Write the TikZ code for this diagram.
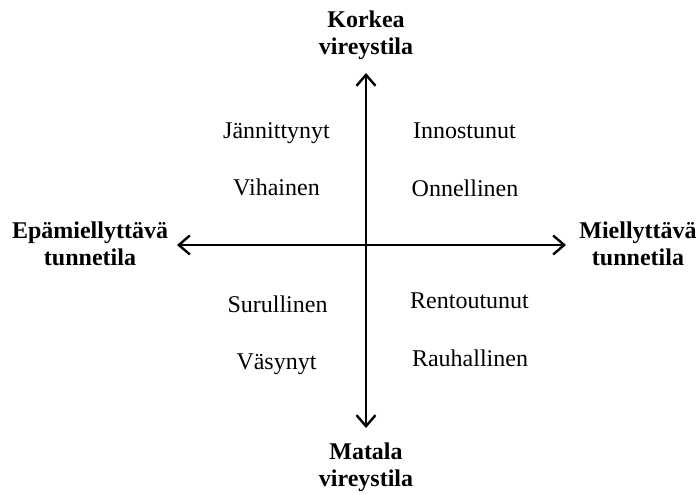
\documentclass[tikz,border=0pt]{standalone}
\usepackage{fontspec}
\setmainfont{Liberation Serif}
\usetikzlibrary{arrows.meta}

\begin{document}
\begin{tikzpicture}[
    x=1pt, y=-1pt,
    every node/.style={font=\fontsize{24}{27}\selectfont, inner sep=0pt, anchor=base},
    axis/.style={-{Straight Barb[length=11pt, width=19pt]}, line width=2.4pt},
    pole/.style={font=\fontsize{24}{27}\selectfont\bfseries, align=center},
    mood/.style={},
]

% Canvas
\useasboundingbox (0,0) rectangle (699,495);

% Parameters
\def\xc{366}
\def\yc{245}

% === Axes ===
\coordinate (west) at (177,\yc);
\coordinate (east) at (566,\yc);
\coordinate (north) at (\xc,73);
\coordinate (south) at (\xc,428);
\coordinate (origin) at (\xc,\yc);
\draw[axis] (origin) -- (west);
\draw[axis] (origin) -- (east);
\draw[axis] (origin) -- (north);
\draw[axis] (origin) -- (south);

% === Axis labels (base = last line) ===
\node[pole] (high) at (\xc,55) {Korkea\\vireystila};
\node[pole] (low) at (\xc,486) {Matala\\vireystila};
\node[pole] (unpleasant) at (90,265) {Epämiellyttävä\\tunnetila};
\node[pole] (pleasant) at (638,265) {Miellyttävä\\tunnetila};

% === Quadrant moods ===
\node[mood] (tense) at (276.5,138) {Jännittynyt};
\node[mood] (angry) at (276.5,195) {Vihainen};
\node[mood] (excited) at (464.5,138) {Innostunut};
\node[mood] (happy) at (465,196) {Onnellinen};
\node[mood] (sad) at (277.5,312) {Surullinen};
\node[mood] (tired) at (276.5,369) {Väsynyt};
\node[mood] (relaxed) at (469.5,308) {Rentoutunut};
\node[mood] (calm) at (470,366) {Rauhallinen};

\end{tikzpicture}
\end{document}
